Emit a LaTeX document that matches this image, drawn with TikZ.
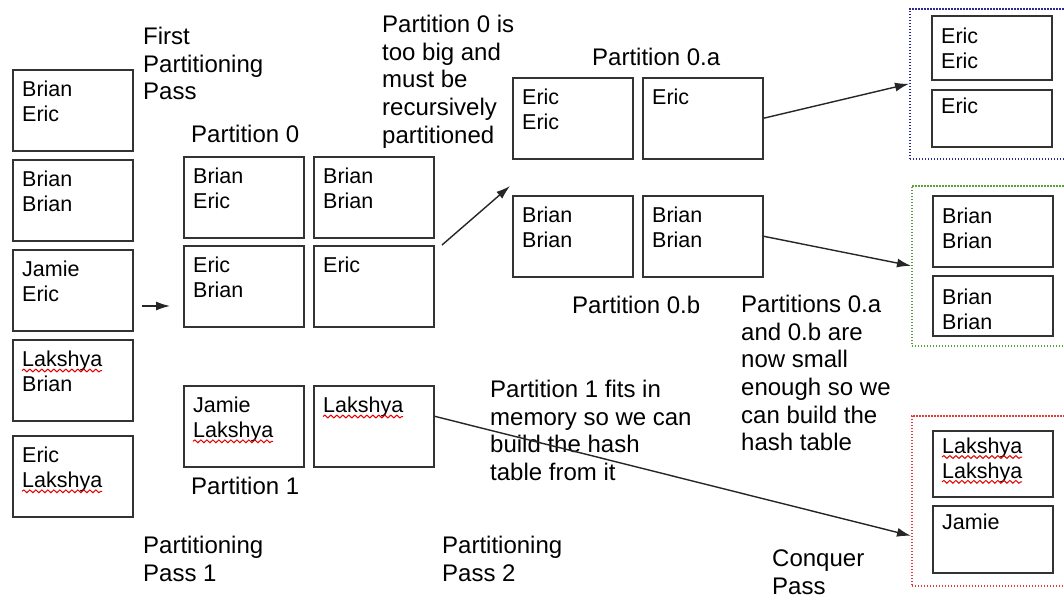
\documentclass[tikz,border=0pt]{standalone}
\usepackage{fontspec}
\setmainfont{Liberation Sans}
\usetikzlibrary{arrows.meta,decorations.pathmorphing}

\begin{document}
\begin{tikzpicture}[x=1pt,y=-1pt,
    rec/.style={draw=black!80, line width=1.5pt, anchor=north west, minimum width=120pt, inner sep=0pt},
    entry/.style={anchor=north west, yshift=15.4pt, align=left, inner sep=0pt, font=\fontsize{21.5}{24.8}\selectfont},
    note/.style={anchor=north west, yshift=17.2pt, align=left, inner sep=0pt, font=\fontsize{24}{27.7}\selectfont},
    grp/.style={line width=1.6pt, dash pattern=on 1.6pt off 1.4pt, anchor=north west, minimum width=170pt, inner sep=0pt},
    link/.style={line width=1.4pt, black!85, -{Latex[length=14pt,width=9pt]}},
    squig/.style={draw=red!90!black, line width=1pt, decorate, decoration={snake, amplitude=1.4pt, segment length=6pt}}]

    \useasboundingbox[fill=white] (0,0) rectangle (1064,597);
    \clip (0,0) rectangle (1064,597);

    % boxes of 81pt height: name/x/y/text
    \foreach \n/\x/\y/\t in {l1/12/69/{Brian\\Eric}, l2/12/159/{Brian\\Brian}, l3/12/249/{Jamie\\Eric},
        l4/12/339/{Lakshya\\Brian}, l5/12/435/{Eric\\Lakshya},
        p0a/183/156/{Brian\\Eric}, p0b/313/156/{Brian\\Brian}, p0c/183/245/{Eric\\Brian}, p0d/313/245/{Eric},
        p1a/183/385/{Jamie\\Lakshya}, p1b/313/385/{Lakshya},
        qa1/512/77/{Eric\\Eric}, qa2/642/77/{Eric}, qb1/512/195/{Brian\\Brian}, qb2/642/195/{Brian\\Brian}}
    {
        \node[rec, minimum height=81pt] (\n) at (\x,\y) {};
        \node[entry] (\n-t) at (\x+10,\y+27.5) {\t};
    }

    % conquer pass groups
    \node[grp, draw={rgb,255:red,40;green,40;blue,150}, minimum height=150pt] (grpA) at (909,8) {};
    \node[grp, draw={rgb,255:red,90;green,160;blue,60}, minimum height=160pt] (grpB) at (911,185) {};
    \node[grp, draw={rgb,255:red,225;green,60;blue,60}, minimum height=170pt] (grpC) at (911,415) {};

    % name/x/y/height/baseline offset/text
    \foreach \n/\x/\y/\h/\b/\t in {c1/931/15/64/28/{Eric\\Eric}, c2/931/89/57/24/{Eric},
        c3/932/195/71/28/{Brian\\Brian}, c4/932/275/60/29/{Brian\\Brian},
        c5/932/430/66/23/{Lakshya\\Lakshya}, c6/932/505/67/24/{Jamie}}
    {
        \node[rec, minimum height=\h pt] (\n) at (\x,\y) {};
        \node[entry] (\n-t) at (\x+10,\y+\b) {\t};
    }

    % spell check marks
    \draw[squig] ([yshift=-19.4pt]l4-t.north west) -- ++(80,0);
    \draw[squig] ([yshift=-44.2pt]l5-t.north west) -- ++(80,0);
    \draw[squig] ([yshift=-44.2pt]p1a-t.north west) -- ++(80,0);
    \draw[squig] ([yshift=-19.4pt]p1b-t.north west) -- ++(80,0);
    \draw[squig] ([yshift=-19.4pt]c5-t.north west) -- ++(80,0);
    \draw[squig] ([yshift=-44.2pt]c5-t.north west) -- ++(80,0);

    % labels
    \node[note] (first) at (143,44) {First\\Partitioning\\Pass};
    \node[note] (lp0) at (191,142) {Partition 0};
    \node[note] (lp1) at (191,494) {Partition 1};
    \node[note] (big) at (382,32) {Partition 0 is\\too big and\\must be\\recursively\\partitioned};
    \node[note] (lqa) at (592,65) {Partition 0.a};
    \node[note] (lqb) at (572,313) {Partition 0.b};
    \node[note] (small) at (741,312) {Partitions 0.a\\and 0.b are\\now small\\enough so we\\can build the\\hash table};
    \node[note] (fits) at (490,397) {Partition 1 fits in\\memory so we can\\build the hash\\table from it};
    \node[note] (pass1) at (143,553) {Partitioning\\Pass 1};
    \node[note] (pass2) at (442,553) {Partitioning\\Pass 2};
    \node[note] (conq) at (772,567) {Conquer\\Pass};

    % connectors
    \coordinate (s0) at (142,306);
    \coordinate (e0) at (170,306);
    \coordinate (s1) at (442,245);
    \coordinate (e1) at (510,186);
    \draw[link] (s0) -- (e0);
    \draw[link] (s1) -- (e1);
    \draw[link] (qa2.east) -- (grpA.west);
    \draw[link] (qb2.east) -- (grpB.west);
    \draw[link] ([yshift=10pt]p1b.east) -- ([yshift=-35pt]grpC.west);

\end{tikzpicture}
\end{document}
